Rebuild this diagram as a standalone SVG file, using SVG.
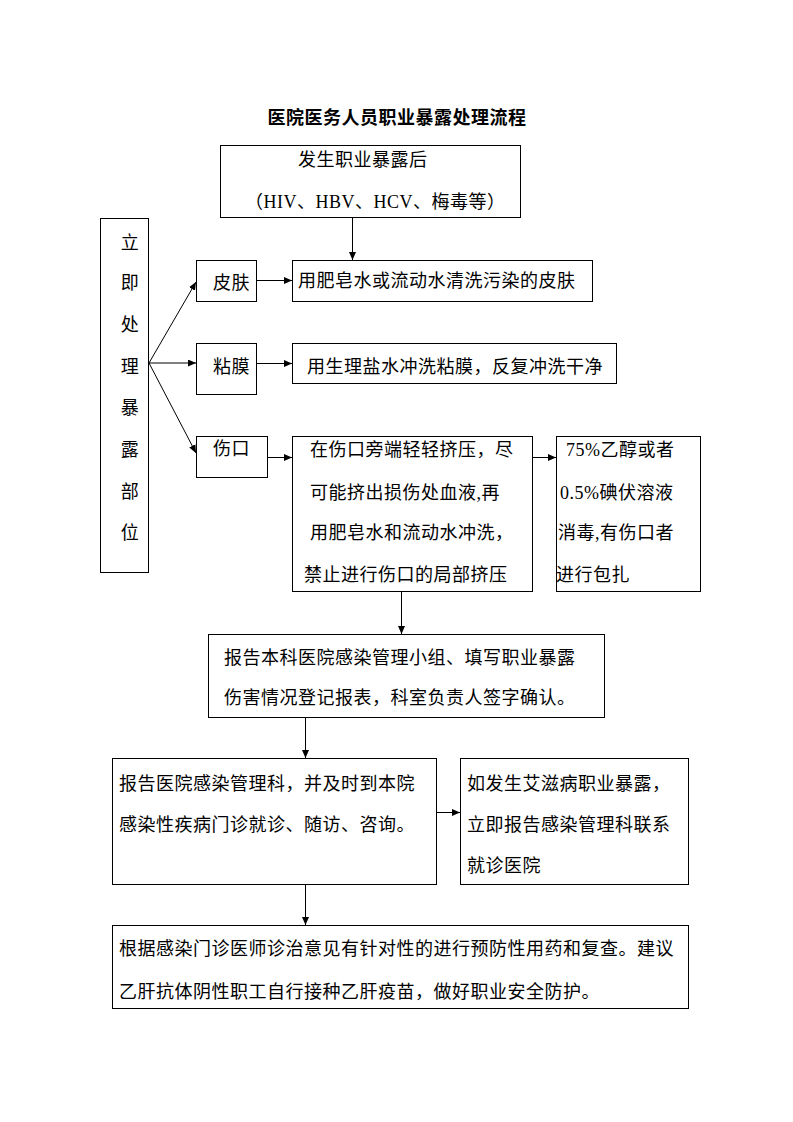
<svg xmlns="http://www.w3.org/2000/svg" width="793" height="1122" viewBox="0 0 793 1122">
<defs>
<marker id="ah" markerUnits="userSpaceOnUse" markerWidth="9" markerHeight="7" refX="8" refY="3.5" orient="auto">
<path d="M0,0 L8,3.5 L0,7 z" fill="#000"/>
</marker>
<style>
.b{fill:#fff;stroke:#000;stroke-width:1}
.t{font-family:"Liberation Serif","Noto Sans CJK SC",serif;font-size:18px;letter-spacing:0.5px;fill:#000}
.ti{font-family:"Liberation Serif","Noto Sans CJK SC",serif;font-size:18px;font-weight:bold;letter-spacing:0.5px;fill:#000}
.c{stroke:#000;stroke-width:1;fill:none;marker-end:url(#ah)}
</style>
</defs>
<rect width="793" height="1122" fill="#fff"/>
<text class="ti" x="397" y="124" text-anchor="middle">医院医务人员职业暴露处理流程</text>

<g id="n-start">
<rect class="b" x="220.5" y="145.5" width="300" height="72"/>
<text class="t" x="298" y="166">发生职业暴露后</text>
<text class="t" x="245" y="208">（HIV、HBV、HCV、梅毒等）</text>
</g>

<g id="n-site">
<rect class="b" x="100.5" y="218.5" width="48" height="354"/>
<text class="t" x="130" y="249" text-anchor="middle">立</text>
<text class="t" x="130" y="289" text-anchor="middle">即</text>
<text class="t" x="130" y="331" text-anchor="middle">处</text>
<text class="t" x="130" y="373" text-anchor="middle">理</text>
<text class="t" x="130" y="414" text-anchor="middle">暴</text>
<text class="t" x="130" y="456" text-anchor="middle">露</text>
<text class="t" x="130" y="498" text-anchor="middle">部</text>
<text class="t" x="130" y="539" text-anchor="middle">位</text>
</g>

<g id="n-skin">
<rect class="b" x="196.5" y="260.5" width="60" height="41"/>
<text class="t" x="213" y="289">皮肤</text>
</g>
<g id="n-skin-act">
<rect class="b" x="292.5" y="260.5" width="300" height="41"/>
<text class="t" x="298" y="287">用肥皂水或流动水清洗污染的皮肤</text>
</g>

<g id="n-mucosa">
<rect class="b" x="196.5" y="343.5" width="60" height="51"/>
<text class="t" x="213" y="373">粘膜</text>
</g>
<g id="n-mucosa-act">
<rect class="b" x="292.5" y="343.5" width="324" height="40"/>
<text class="t" x="307" y="373">用生理盐水冲洗粘膜，反复冲洗干净</text>
</g>

<g id="n-wound">
<rect class="b" x="196.5" y="436.5" width="71" height="41"/>
<text class="t" x="213" y="455">伤口</text>
</g>
<g id="n-wound-act">
<rect class="b" x="292.5" y="436.5" width="240" height="155"/>
<text class="t" x="310" y="456">在伤口旁端轻轻挤压，尽</text>
<text class="t" x="310" y="499">可能挤出损伤处血液,再</text>
<text class="t" x="310" y="539">用肥皂水和流动水冲洗，</text>
<text class="t" x="304" y="581">禁止进行伤口的局部挤压</text>
</g>
<g id="n-disinfect">
<rect class="b" x="556.5" y="436.5" width="144" height="155"/>
<text class="t" x="566" y="456">75%乙醇或者</text>
<text class="t" x="560" y="499">0.5%碘伏溶液</text>
<text class="t" x="558" y="539">消毒,有伤口者</text>
<text class="t" x="556" y="581">进行包扎</text>
</g>

<g id="n-report1">
<rect class="b" x="208.5" y="634.5" width="396" height="83"/>
<text class="t" x="224" y="664">报告本科医院感染管理小组、填写职业暴露</text>
<text class="t" x="224" y="704">伤害情况登记报表，科室负责人签字确认。</text>
</g>

<g id="n-report2">
<rect class="b" x="112.5" y="758.5" width="324" height="126"/>
<text class="t" x="119" y="790">报告医院感染管理科，并及时到本院</text>
<text class="t" x="119" y="831">感染性疾病门诊就诊、随访、咨询。</text>
</g>
<g id="n-hiv">
<rect class="b" x="460.5" y="758.5" width="228" height="126"/>
<text class="t" x="467" y="790">如发生艾滋病职业暴露，</text>
<text class="t" x="467" y="831">立即报告感染管理科联系</text>
<text class="t" x="467" y="872">就诊医院</text>
</g>

<g id="n-final">
<rect class="b" x="112.5" y="925.5" width="576" height="83"/>
<text class="t" x="119" y="955">根据感染门诊医师诊治意见有针对性的进行预防性用药和复查。建议</text>
<text class="t" x="119" y="998">乙肝抗体阴性职工自行接种乙肝疫苗，做好职业安全防护。</text>
</g>

<g id="connectors">
<line class="c" x1="352.5" y1="218" x2="352.5" y2="260"/>
<line class="c" x1="149" y1="363" x2="196" y2="282"/>
<line class="c" x1="149" y1="363" x2="196" y2="363"/>
<line class="c" x1="149" y1="363" x2="196" y2="453"/>
<line class="c" x1="257" y1="280.5" x2="292" y2="280.5"/>
<line class="c" x1="257" y1="363.5" x2="292" y2="363.5"/>
<line class="c" x1="268" y1="457.5" x2="292" y2="457.5"/>
<line class="c" x1="533" y1="457.5" x2="556" y2="457.5"/>
<line class="c" x1="401.5" y1="592" x2="401.5" y2="634"/>
<line class="c" x1="305.5" y1="718" x2="305.5" y2="758"/>
<line class="c" x1="437" y1="812.5" x2="460" y2="812.5"/>
<line class="c" x1="305.5" y1="885" x2="305.5" y2="925"/>
</g>
</svg>
